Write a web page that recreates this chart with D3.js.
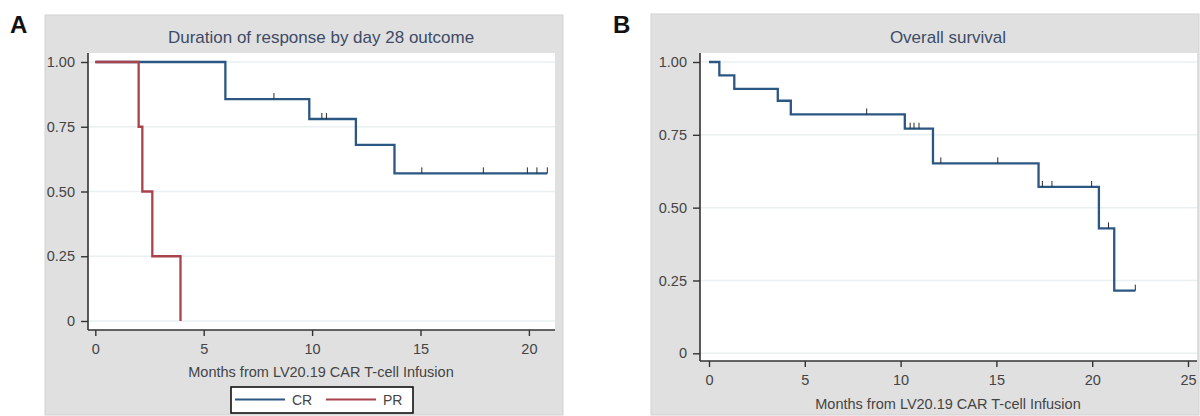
<!DOCTYPE html>
<html><head><meta charset="utf-8">
<script src="https://cdn.jsdelivr.net/npm/d3@7"></script>
<style>
html,body{margin:0;padding:0;background:#fff;}
svg{display:block;font-family:"Liberation Sans",Arial,Helvetica,sans-serif;}
</style></head>
<body>
<svg id="chart" width="1200" height="416"></svg>
<script>
// ---------- data ----------
const yTicks = [0, 0.25, 0.5, 0.75, 1];
const yTickLabels = ["0", "0.25", "0.50", "0.75", "1.00"];
const xTicksA = [0, 5, 10, 15, 20];
const xTicksB = [0, 5, 10, 15, 20, 25];

// Panel A: CR
const crTimes = [0, 6.0, 9.87, 12.02, 13.8];
const crSurv  = [1, 0.857, 0.78, 0.68, 0.57];
const crEnd = 20.85;
const crCensor = [8.24, 10.45, 10.66, 15.06, 17.9, 19.93, 20.37, 20.85];
// Panel A: PR
const prTimes = [0, 2.0, 2.17, 2.63, 3.93];
const prSurv  = [1, 0.75, 0.5, 0.25, 0];
const prEnd = 3.93;
const prCensor = [];
// Panel B: overall survival
const osTimes = [0, 0.54, 1.32, 3.59, 4.27, 10.22, 11.69, 17.2, 20.35, 21.15];
const osSurv  = [1, 0.954, 0.908, 0.867, 0.820, 0.771, 0.652, 0.571, 0.429, 0.215];
const osEnd = 22.25;
const osCensor = [8.23, 10.5, 10.7, 10.96, 12.1, 15.07, 17.4, 17.9, 19.97, 20.85, 22.25];

const titleA = "Duration of response by day 28 outcome";
const titleB = "Overall survival";
const xTitle = "Months from LV20.19 CAR T-cell Infusion";
const legendLabels = ["CR", "PR"];

// ---------- styles ----------
const BLUE = "#2b5782", RED = "#a9434b";
const BG = "#e0e0e0", GRID = "#e8f0f2", TXT = "#444", TITLE = "#3d4b66";
const TICK_FS = 14.5;

const svg = d3.select("#chart");

function stepData(times, surv, end) {
  const pts = times.map((t, i) => [t, surv[i]]);
  pts.push([end, surv[surv.length - 1]]);
  return pts;
}
function survAt(times, surv, t) {
  let s = surv[0];
  for (let i = 0; i < times.length; i++) if (times[i] <= t) s = surv[i];
  return s;
}

function panel(cfg) {
  const g = svg.append("g");
  g.append("rect").attr("x", cfg.box[0]).attr("y", cfg.box[1])
    .attr("width", cfg.box[2] - cfg.box[0]).attr("height", cfg.box[3] - cfg.box[1])
    .attr("fill", BG).attr("stroke", "#d2d2d2").attr("stroke-width", 1);
  g.append("rect").attr("x", cfg.plot[0]).attr("y", cfg.plot[1])
    .attr("width", cfg.plot[2] - cfg.plot[0]).attr("height", cfg.plot[3] - cfg.plot[1])
    .attr("fill", "#fff");
  svg.append("text").attr("x", cfg.letterX).attr("y", 33)
    .attr("font-size", 24).attr("font-weight", "bold").attr("fill", "#111").text(cfg.letter);
  g.append("text").attr("x", cfg.titleX).attr("y", 43).attr("text-anchor", "middle")
    .attr("font-size", 17).attr("fill", TITLE).text(cfg.title);

  const x = d3.scaleLinear().domain(cfg.xDom).range(cfg.xRange);
  const y = d3.scaleLinear().domain([0, 1]).range(cfg.yRange);

  g.selectAll(".grid").data(yTicks).enter().append("line")
    .attr("x1", cfg.plot[0]).attr("x2", cfg.plot[2])
    .attr("y1", d => y(d)).attr("y2", d => y(d))
    .attr("stroke", GRID).attr("stroke-width", 1.5);

  const yAxis = d3.axisLeft(y).tickValues(yTicks)
    .tickFormat((d, i) => yTickLabels[i]).tickSize(7).tickPadding(6);
  const ya = g.append("g").attr("transform", `translate(${cfg.plot[0]},0)`).call(yAxis);
  ya.select(".domain").remove();
  ya.append("line").attr("x1", 0).attr("x2", 0).attr("y1", cfg.plot[1]).attr("y2", cfg.plot[3])
    .attr("stroke", "#333").attr("stroke-width", 1.6);
  ya.selectAll(".tick line").attr("stroke", "#333").attr("stroke-width", 1.4);
  ya.selectAll(".tick text").attr("fill", TXT).attr("font-size", TICK_FS)
    .attr("font-family", "Liberation Sans, Arial, sans-serif");

  const xAxis = d3.axisBottom(x).tickValues(cfg.xTicks).tickSize(6).tickPadding(8)
    .tickFormat(d3.format("d"));
  const xa = g.append("g").attr("transform", `translate(0,${cfg.plot[3]})`).call(xAxis);
  xa.select(".domain").remove();
  xa.append("line").attr("x1", cfg.plot[0]).attr("x2", cfg.plot[2]).attr("y1", 0).attr("y2", 0)
    .attr("stroke", "#333").attr("stroke-width", 1.6);
  xa.selectAll(".tick line").attr("stroke", "#333").attr("stroke-width", 1.4);
  xa.selectAll(".tick text").attr("fill", TXT).attr("font-size", TICK_FS)
    .attr("font-family", "Liberation Sans, Arial, sans-serif");

  g.append("text").attr("x", cfg.titleX).attr("y", cfg.xTitleY).attr("text-anchor", "middle")
    .attr("font-size", 14.5).attr("fill", TXT).text(xTitle);

  const line = d3.line().x(d => x(d[0])).y(d => y(d[1])).curve(d3.curveStepAfter);
  cfg.series.forEach(s => {
    g.append("path").datum(stepData(s.times, s.surv, s.end))
      .attr("d", line).attr("fill", "none").attr("stroke", s.color)
      .attr("stroke-width", 2.3).attr("stroke-linejoin", "miter");
    g.selectAll(null).data(s.censor).enter().append("line")
      .attr("x1", d => x(d)).attr("x2", d => x(d))
      .attr("y1", d => y(survAt(s.times, s.surv, d)))
      .attr("y2", d => y(survAt(s.times, s.surv, d)) - 6)
      .attr("stroke", "#2a2a2a").attr("stroke-width", 1);
  });
  return g;
}

panel({
  letter: "A", letterX: 10, box: [45, 15, 563, 415], plot: [88, 53, 555, 330],
  title: titleA, titleX: 321, xTitleY: 377,
  xDom: [0, 20], xRange: [95.3, 528.9], yRange: [321, 62], xTicks: xTicksA,
  series: [
    { times: crTimes, surv: crSurv, end: crEnd, censor: crCensor, color: BLUE },
    { times: prTimes, surv: prSurv, end: prEnd, censor: prCensor, color: RED }
  ]
});

panel({
  letter: "B", letterX: 613, box: [651, 14, 1199, 415], plot: [700, 53, 1197, 361],
  title: titleB, titleX: 948, xTitleY: 409,
  xDom: [0, 25], xRange: [709, 1188], yRange: [353.3, 62], xTicks: xTicksB,
  series: [
    { times: osTimes, surv: osSurv, end: osEnd, censor: osCensor, color: BLUE }
  ]
});

// legend (panel A)
const lg = svg.append("g");
lg.append("rect").attr("x", 231).attr("y", 387).attr("width", 182).attr("height", 26)
  .attr("fill", "#fff").attr("stroke", "#111").attr("stroke-width", 1.6);
const legendColors = [BLUE, RED];
const legX = d3.scalePoint().domain(legendLabels).range([235, 326]);
legendLabels.forEach((lab, i) => {
  const x0 = legX(lab);
  lg.append("line").attr("x1", x0).attr("x2", x0 + 50).attr("y1", 399.5).attr("y2", 399.5)
    .attr("stroke", legendColors[i]).attr("stroke-width", 2);
  lg.append("text").attr("x", x0 + 57).attr("y", 404.5).attr("font-size", 14)
    .attr("fill", TXT).text(lab);
});
</script>
</body></html>
